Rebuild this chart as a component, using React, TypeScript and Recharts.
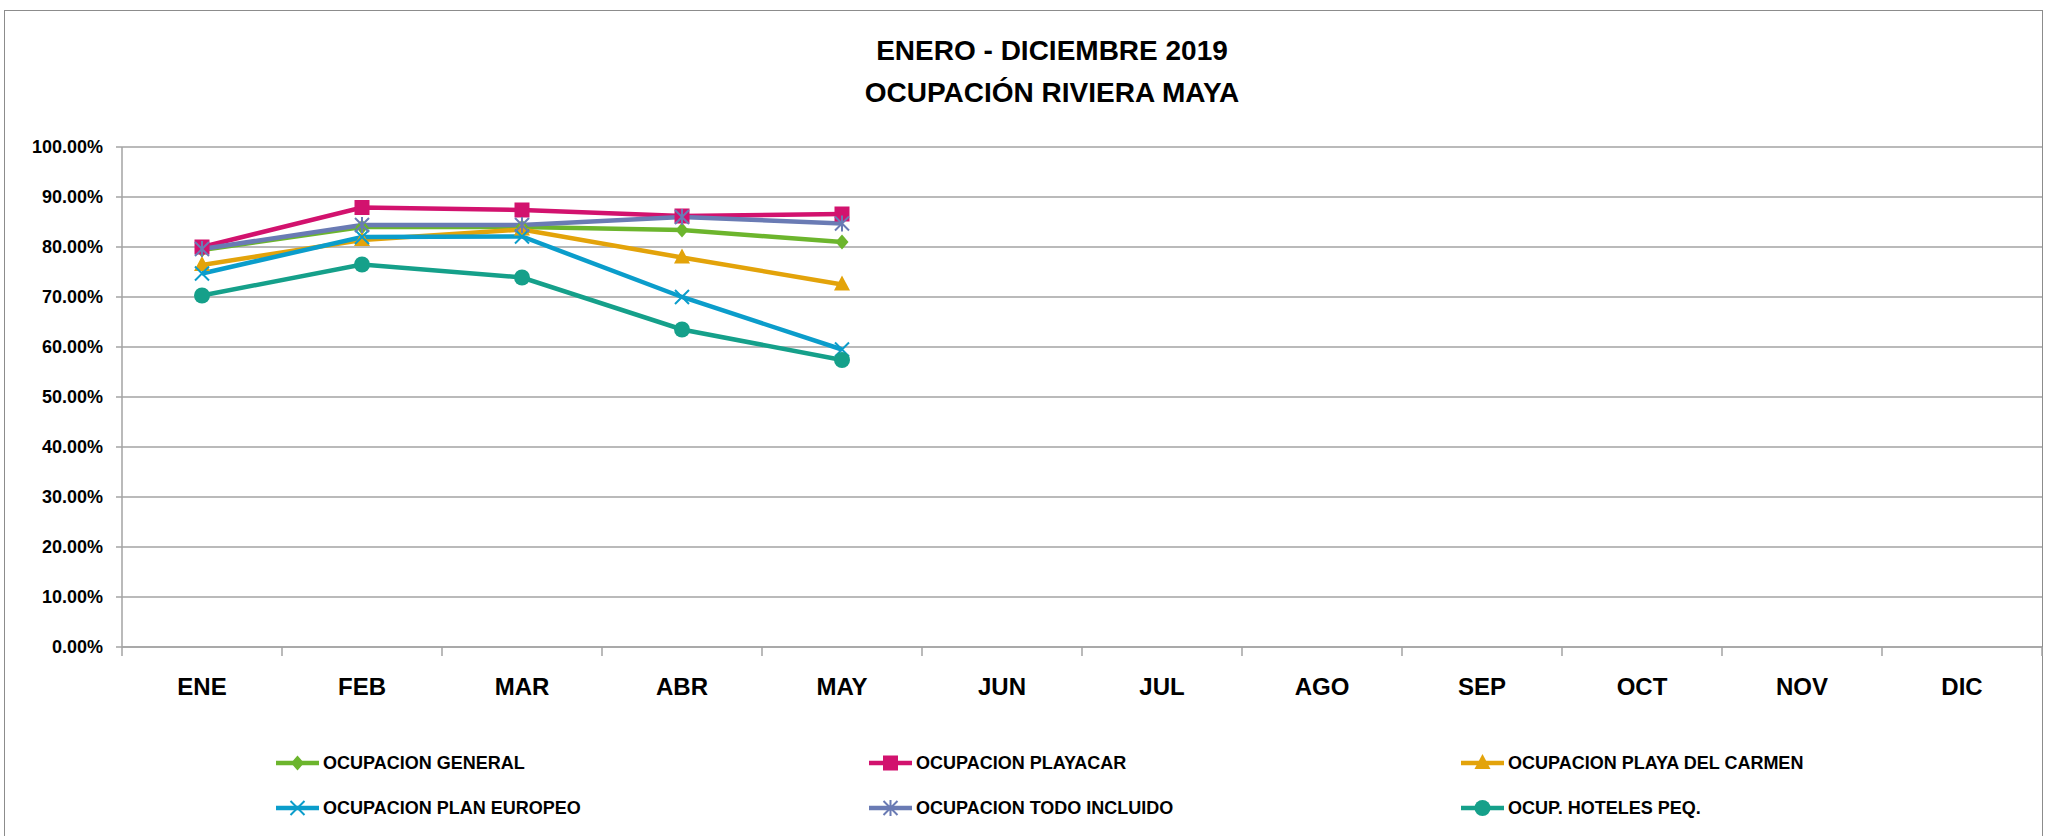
import React from 'react';
import { CartesianGrid, Line, LineChart, XAxis, YAxis } from 'recharts';

const MONTHS = ['ENE', 'FEB', 'MAR', 'ABR', 'MAY', 'JUN', 'JUL', 'AGO', 'SEP', 'OCT', 'NOV', 'DIC'];

// values in %, only Jan-May 2019 reported
const GENERAL = [79.4, 84.0, 84.0, 83.4, 81.0];
const PLAYACAR = [80.0, 87.9, 87.4, 86.2, 86.6];
const PLAYA_DEL_CARMEN = [76.4, 81.4, 83.5, 77.9, 72.5];
const PLAN_EUROPEO = [74.7, 82.0, 82.1, 70.0, 59.5];
const TODO_INCLUIDO = [79.6, 84.4, 84.4, 86.0, 84.7];
const HOTELES_PEQ = [70.3, 76.5, 73.9, 63.5, 57.4];

const Y_TICKS = [0, 10, 20, 30, 40, 50, 60, 70, 80, 90, 100];
const X_TICKS = [0, 1, 2, 3, 4, 5, 6, 7, 8, 9, 10, 11, 12];

const W = 2051;
const H = 836;
const Y_AXIS_W = 122;
const RIGHT = 9;
const PLOT_W = W - Y_AXIS_W - RIGHT;
const HALF_CAT = PLOT_W / MONTHS.length / 2;
const FONT = '"Liberation Sans", Arial, sans-serif';

type Shape = 'diamond' | 'square' | 'triangle' | 'x' | 'star' | 'circle';

const SERIES: { key: string; name: string; color: string; shape: Shape; values: number[] }[] = [
  { key: 'general', name: 'OCUPACION GENERAL', color: '#6CB52D', shape: 'diamond', values: GENERAL },
  { key: 'playacar', name: 'OCUPACION PLAYACAR', color: '#D2126E', shape: 'square', values: PLAYACAR },
  { key: 'pdc', name: 'OCUPACION PLAYA DEL CARMEN', color: '#E3A30A', shape: 'triangle', values: PLAYA_DEL_CARMEN },
  { key: 'europeo', name: 'OCUPACION PLAN EUROPEO', color: '#0B9DCB', shape: 'x', values: PLAN_EUROPEO },
  { key: 'todo', name: 'OCUPACION TODO INCLUIDO', color: '#6A7BB4', shape: 'star', values: TODO_INCLUIDO },
  { key: 'hoteles', name: 'OCUP. HOTELES PEQ.', color: '#15A08A', shape: 'circle', values: HOTELES_PEQ },
];

const data = MONTHS.map((m, i) => {
  const row: { [k: string]: string | number | null } = { month: m, idx: i + 0.5 };
  SERIES.forEach(s => {
    row[s.key] = i < s.values.length ? s.values[i] : null;
  });
  return row;
});

const marker = (shape: Shape, color: string, cx: number, cy: number, key?: string) => {
  switch (shape) {
    case 'diamond':
      return <path key={key} d={`M${cx},${cy - 7.5}L${cx + 6.5},${cy}L${cx},${cy + 7.5}L${cx - 6.5},${cy}Z`} fill={color} />;
    case 'square':
      return <rect key={key} x={cx - 7.5} y={cy - 7.5} width={15} height={15} fill={color} />;
    case 'triangle':
      return <path key={key} d={`M${cx},${cy - 9}L${cx + 8},${cy + 6}L${cx - 8},${cy + 6}Z`} fill={color} />;
    case 'x':
      return (
        <path key={key} d={`M${cx - 7},${cy - 7}L${cx + 7},${cy + 7}M${cx + 7},${cy - 7}L${cx - 7},${cy + 7}`} stroke={color} strokeWidth={2} fill="none" />
      );
    case 'star':
      return (
        <path
          key={key}
          d={`M${cx - 7},${cy - 7}L${cx + 7},${cy + 7}M${cx + 7},${cy - 7}L${cx - 7},${cy + 7}M${cx},${cy - 8}L${cx},${cy + 8}`}
          stroke={color}
          strokeWidth={2}
          fill="none"
        />
      );
    default:
      return <circle key={key} cx={cx} cy={cy} r={8} fill={color} />;
  }
};

const makeDot = (shape: Shape, color: string) => (props: any) => {
  const { cx, cy, value, index } = props;
  if (value == null || cx == null || cy == null) return <g key={`e-${index}`} />;
  return marker(shape, color, cx, cy, `d-${index}`);
};

const MonthTick = (props: any) => {
  const { x, y, payload } = props;
  const label = MONTHS[payload.value];
  if (!label) return <g />;
  return (
    <text x={x + HALF_CAT} y={y} dy="0.71em" textAnchor="middle" fontFamily={FONT} fontWeight="bold" fontSize={24} fill="#000">
      {label}
    </text>
  );
};

const LEGEND_X = [276, 869, 1461];
const LEGEND_Y = [763, 808];

export default function App() {
  return (
    <div style={{ position: 'relative', width: W, height: H, background: '#fff', overflow: 'hidden' }}>
      <style>{'body{margin:0}'}</style>
      <div
        style={{
          position: 'absolute',
          left: 4,
          top: 10,
          width: 2039,
          height: 900,
          border: '1.5px solid #8c8c8c',
          boxSizing: 'border-box',
        }}
      />
      <div
        style={{
          position: 'absolute',
          left: 1052 - 600,
          top: 30,
          width: 1200,
          textAlign: 'center',
          fontFamily: FONT,
          fontWeight: 'bold',
          fontSize: 28,
          lineHeight: '42px',
          color: '#000',
        }}
      >
        <div>ENERO - DICIEMBRE 2019</div>
        <div>OCUPACIÓN RIVIERA MAYA</div>
      </div>
      <div style={{ position: 'absolute', left: 0, top: 0 }}>
        <LineChart width={W} height={H} data={data} margin={{ top: 147, right: RIGHT, bottom: 149, left: 0 }}>
          <CartesianGrid vertical={false} stroke="#a3a3a3" strokeWidth={1.5} />
          <XAxis
            dataKey="idx"
            type="number"
            domain={[0, 12]}
            ticks={X_TICKS}
            interval={0}
            height={40}
            stroke="#a3a3a3"
            strokeWidth={1.5}
            tickSize={9}
            tickMargin={22}
            tick={<MonthTick />}
          />
          <YAxis
            domain={[0, 100]}
            ticks={Y_TICKS}
            interval={0}
            width={Y_AXIS_W}
            stroke="#a3a3a3"
            strokeWidth={1.5}
            tickSize={6}
            tickMargin={13}
            tickFormatter={(v: number) => `${v.toFixed(2)}%`}
            tick={{ fontFamily: FONT, fontWeight: 'bold', fontSize: 18, fill: '#000' }}
          />
          {SERIES.map(s => (
            <Line
              key={s.key}
              dataKey={s.key}
              name={s.name}
              stroke={s.color}
              strokeWidth={4.5}
              dot={makeDot(s.shape, s.color)}
              activeDot={false}
              connectNulls={false}
              isAnimationActive={false}
            />
          ))}
        </LineChart>
      </div>
      {SERIES.map((s, i) => {
        const x = LEGEND_X[i % 3];
        const y = LEGEND_Y[Math.floor(i / 3)];
        return (
          <div key={s.key} style={{ position: 'absolute', left: x, top: y - 12, height: 24, display: 'flex', alignItems: 'center' }}>
            <svg width={43} height={24} style={{ display: 'block' }}>
              <line x1={0} y1={12} x2={43} y2={12} stroke={s.color} strokeWidth={4.5} />
              {marker(s.shape, s.color, 21.5, 12)}
            </svg>
            <span style={{ marginLeft: 4, fontFamily: FONT, fontWeight: 'bold', fontSize: 18, color: '#000', whiteSpace: 'nowrap' }}>
              {s.name}
            </span>
          </div>
        );
      })}
    </div>
  );
}
